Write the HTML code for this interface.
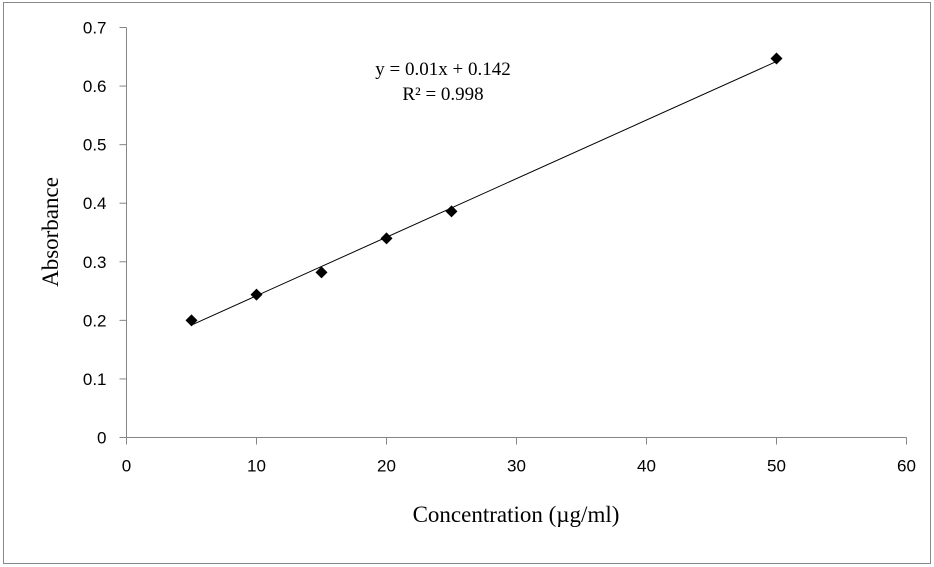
<!DOCTYPE html>
<html><head><meta charset="utf-8"><style>
body{margin:0;background:#fff}
svg{display:block}
.t{font-family:"Liberation Sans",sans-serif;font-size:17px;fill:#000}
.s{font-family:"Liberation Serif",serif;fill:#000}
</style></head><body>
<svg id="c" width="934" height="567">
<rect x="3.5" y="2.5" width="927" height="561" fill="#fff" stroke="#888"/>
<g id="g"></g>
<text class="s" x="443" y="75" font-size="19" text-anchor="middle">y = 0.01x + 0.142</text>
<text class="s" x="443" y="100" font-size="19" text-anchor="middle">R² = 0.998</text>
<text class="s" x="516" y="522" font-size="23" text-anchor="middle">Concentration (µg/ml)</text>
<text class="s" x="0" y="0" font-size="23" text-anchor="middle" transform="translate(58,232) rotate(-90)">Absorbance</text>
</svg>
<script>
const xVals=[5,10,15,20,25,50];
const yVals=[0.2,0.244,0.282,0.34,0.386,0.647];
const xTicks=[0,10,20,30,40,50,60];
const yTicks=[0,0.1,0.2,0.3,0.4,0.5,0.6,0.7];
const slope=0.01, intercept=0.142;
const X=v=>126.5+v*(906.5-126.5)/60;
const Y=v=>437.5-v*(437.5-27.5)/0.7;
const g=document.getElementById('g');const NS='http://www.w3.org/2000/svg';
function mk(t,a){const e=document.createElementNS(NS,t);for(const k in a)e.setAttribute(k,a[k]);g.appendChild(e);return e;}
let e=mk('line',{x1:X(0),y1:Y(0),x2:X(0),y2:Y(0.7),stroke:'#868686'});


e=mk('line',{x1:X(0),y1:Y(0),x2:X(60),y2:Y(0),stroke:'#868686'});


yTicks.forEach(v=>{
 e=mk('line',{x1:X(0)-7,y1:Y(v),x2:X(0),y2:Y(v),stroke:'#868686'});
 
 
 e=mk('text',{x:X(0)-20,y:Y(v)+6,class:'t','text-anchor':'end'});e.textContent=String(v);
 
 
});
xTicks.forEach(v=>{
 e=mk('line',{x1:X(v),y1:Y(0),x2:X(v),y2:Y(0)+7,stroke:'#868686'});
 
 
 e=mk('text',{x:X(v),y:Y(0)+34,class:'t','text-anchor':'middle'});e.textContent=String(v);
 
 
});
const x0=Math.min(...xVals),x1=Math.max(...xVals);
e=mk('line',{x1:X(x0),y1:Y(slope*x0+intercept),x2:X(x1),y2:Y(slope*x1+intercept),stroke:'#000','stroke-width':1});


xVals.forEach((v,i)=>{
 const cx=X(v),cy=Y(yVals[i]);
 e=mk('polygon',{points:`${cx},${cy-6} ${cx+6},${cy} ${cx},${cy+6} ${cx-6},${cy}`,fill:'#000'});
 
 
});
</script>
</body></html>
